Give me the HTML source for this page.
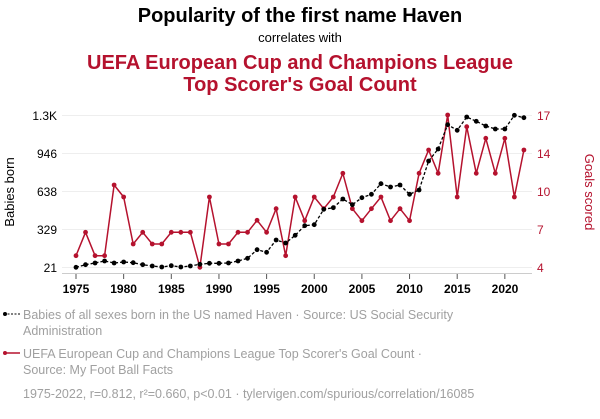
<!DOCTYPE html>
<html><head><meta charset="utf-8"><style>
body{margin:0;background:#fff;width:600px;height:414px;overflow:hidden;font-family:"Liberation Sans",sans-serif}
</style></head><body>
<svg id="s" width="600" height="414" xmlns="http://www.w3.org/2000/svg" font-family="Liberation Sans, sans-serif">
<text x="300" y="22" text-anchor="middle" font-size="20" font-weight="bold" fill="#000">Popularity of the first name Haven</text>
<text x="300" y="42" text-anchor="middle" font-size="13" fill="#000">correlates with</text>
<text x="300" y="69" text-anchor="middle" font-size="20" font-weight="bold" fill="#b5122e">UEFA European Cup and Champions League</text>
<text x="300" y="91" text-anchor="middle" font-size="20" font-weight="bold" fill="#b5122e">Top Scorer's Goal Count</text>
<g stroke="#eee" stroke-width="1">
<line x1="62" x2="532" y1="115.5" y2="115.5"/><line x1="62" x2="532" y1="153.5" y2="153.5"/><line x1="62" x2="532" y1="191.5" y2="191.5"/><line x1="62" x2="532" y1="229.5" y2="229.5"/><line x1="62" x2="532" y1="267.5" y2="267.5"/>
</g>
<g font-size="12" fill="#000" text-anchor="end">
<text x="57" y="120">1.3K</text><text x="57" y="158">946</text><text x="57" y="196">638</text><text x="57" y="234">329</text><text x="57" y="272">21</text>
</g>
<g font-size="12" fill="#b5122e">
<text x="537" y="120">17</text><text x="537" y="158">14</text><text x="537" y="196">10</text><text x="537" y="234">7</text><text x="537" y="272">4</text>
</g>
<text transform="translate(14,192) rotate(-90)" text-anchor="middle" font-size="13" fill="#000">Babies born</text>
<text transform="translate(585,192) rotate(90)" text-anchor="middle" font-size="13" fill="#b5122e">Goals scored</text>
<line x1="62" x2="532" y1="273.5" y2="273.5" stroke="#ccc"/>
<g id="ticks" stroke="#555"></g>
<g font-size="12" font-weight="bold" fill="#000" text-anchor="middle">
<text x="76" y="293">1975</text><text x="123.6" y="293">1980</text><text x="171.3" y="293">1985</text><text x="219" y="293">1990</text><text x="266.6" y="293">1995</text><text x="314.3" y="293">2000</text><text x="362" y="293">2005</text><text x="409.6" y="293">2010</text><text x="457.3" y="293">2015</text><text x="505" y="293">2020</text>
</g>
<g id="plot"></g>
<line x1="4" x2="20" y1="314" y2="314" stroke="#000" stroke-dasharray="2,1.5"/><circle cx="5" cy="314" r="2" fill="#000"/>
<line x1="4" x2="20" y1="353" y2="353" stroke="#b5122e" stroke-width="1.5"/><circle cx="5" cy="353" r="2" fill="#b5122e"/>
<g font-size="12.5" fill="#a0a0a0">
<text x="23" y="319">Babies of all sexes born in the US named Haven · Source: US Social Security</text>
<text x="23" y="335">Administration</text>
<text x="23" y="358">UEFA European Cup and Champions League Top Scorer's Goal Count ·</text>
<text x="23" y="374">Source: My Foot Ball Facts</text>
<text x="23" y="398">1975-2022, r=0.812, r²=0.660, p&lt;0.01 · tylervigen.com/spurious/correlation/16085</text>
</g>
</svg>
<script>
var red=[255.7,232.3,255.7,255.7,185,197,244,232.3,244,244,232.3,232.3,232.3,267.3,197,244,244,232.3,232.3,220.3,232.3,208.7,255.7,197,220.7,197,208.7,197,173.3,208.7,220.7,208.7,197,220.7,208.7,220.7,173.3,150,173.3,115,197,126.7,173.3,138.3,173.3,138.3,197,150];
var blk=[267.3,264.7,263,261,263,262,262.7,264.7,266,267,265.7,267,266,264.3,263.3,263.3,263,261,258.3,249.7,252.3,240,243,235.3,225.7,224.7,209.3,207.7,199,204.7,197.7,194.3,183.7,187,185,194.3,190,161,149,124.7,130.3,117,121.3,126,129,129,115.3,117.7];
var NS="http://www.w3.org/2000/svg";
function X(i){return 76+9.53*i;}
var t=document.getElementById('ticks');
for(var k=0;k<10;k++){var l=document.createElementNS(NS,'line');l.setAttribute('x1',X(k*5));l.setAttribute('x2',X(k*5));l.setAttribute('y1',274);l.setAttribute('y2',279);t.appendChild(l);}
var g=document.getElementById('plot');
function pl(d,col,dash,w){var p=document.createElementNS(NS,'polyline');p.setAttribute('points',d.map(function(y,i){return X(i)+','+y}).join(' '));p.setAttribute('fill','none');p.setAttribute('stroke',col);p.setAttribute('stroke-width',w);if(dash)p.setAttribute('stroke-dasharray',dash);g.appendChild(p);
d.forEach(function(y,i){var c=document.createElementNS(NS,'circle');c.setAttribute('cx',X(i));c.setAttribute('cy',y);c.setAttribute('r',2.4);c.setAttribute('fill',col);g.appendChild(c);});}
pl(red,'#b5122e',null,1.5);
pl(blk,'#000','3,2',1.3);
</script>
</body></html>
